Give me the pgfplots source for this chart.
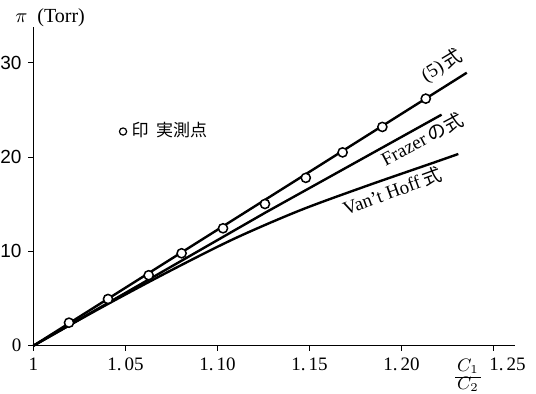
\documentclass[border=0pt]{standalone}
\usepackage{fontspec}
\setmainfont{Liberation Serif}
\setsansfont{Liberation Sans}
\newfontfamily\jp{Noto Sans CJK JP}
\usepackage{pgfplots}
\pgfplotsset{compat=1.18}
\begin{document}
\begin{tikzpicture}
\path[use as bounding box] (-16.75pt,-24.15pt) rectangle (251.25pt,172.85pt);
\begin{axis}[
  at={(0,0)}, anchor=south west,
  scale only axis, width=240.75pt, height=159.35pt,
  xmin=1, xmax=1.2617, ymin=0, ymax=33.8,
  axis x line=bottom, axis y line=left,
  axis line style={-, line width=0.7pt},
  xtick={1,1.05,1.10,1.15,1.20},
  xticklabels={1,1.\,05,1.\,10,1.\,15,1.\,20},
  extra x ticks={1.25},
  extra x tick labels={1.\,25},
  extra x tick style={xticklabel style={xshift=7pt}},
  ytick={0,10,20,30},
  yticklabels={0,{\sffamily 10},{\sffamily 20},{\sffamily 30}},
  tick align=outside, major tick length=2.5pt,
  tick style={line width=0.6pt, black},
  ticklabel style={font=\fontsize{9.5}{10}\selectfont},
  clip=false,
]
% (5) equation
\addplot[black, line width=1.2pt] coordinates {(1,0) (1.2355,28.95)};
% Frazer
\addplot[black, line width=1.2pt] coordinates {(1,0) (1.1268,14.2) (1.2218,24.5)};
% Van't Hoff
\addplot[black, line width=1.2pt, smooth] coordinates {(1,0) (1.036,3.95) (1.0724,7.75) (1.1086,11.3) (1.1448,14.35) (1.1811,16.95) (1.2173,19.4) (1.2309,20.33)};
% measured points
\addplot[only marks, mark=*, mark size=2.3pt, mark options={fill=white, draw=black, line width=0.75pt}] coordinates {
(1.0193,2.44) (1.0405,4.95) (1.0626,7.47) (1.0805,9.8) (1.103,12.45)
(1.1258,15.03) (1.148,17.8) (1.168,20.5) (1.1896,23.2) (1.2132,26.2)};

\node[rotate=31, font=\fontsize{9.5}{10}\selectfont] at (axis cs:1.222,29.7) {(5)\,{\jp 式}};
\node[rotate=28, font=\fontsize{9.5}{10}\selectfont] at (axis cs:1.2111,21.9) {Frazer\,{\jp の式}};
\node[rotate=20, font=\fontsize{9.5}{10}\selectfont] at (axis cs:1.1948,16.4) {Van't Hoff\,{\jp 式}};
\node[font=\fontsize{8.5}{10}\selectfont] at (axis cs:1.0704,22.9) {\tikz[baseline=-0.6ex]\draw[line width=0.6pt] (0,0) circle (1.8pt);\ {\jp 印\ \ 実測点}};
\node[font=\fontsize{10}{10}\selectfont] at (axis cs:1.009,34.75) {$\pi$\ \ (Torr)};
\node[font=\fontsize{9}{10.8}\selectfont, inner sep=0pt] at (axis cs:1.2361,-3.32) {\renewcommand\arraystretch{0.75}\setlength\tabcolsep{1pt}\begin{tabular}{c}$C_{1}$\\\hline$C_{2}$\end{tabular}};
\end{axis}
\end{tikzpicture}
\end{document}
